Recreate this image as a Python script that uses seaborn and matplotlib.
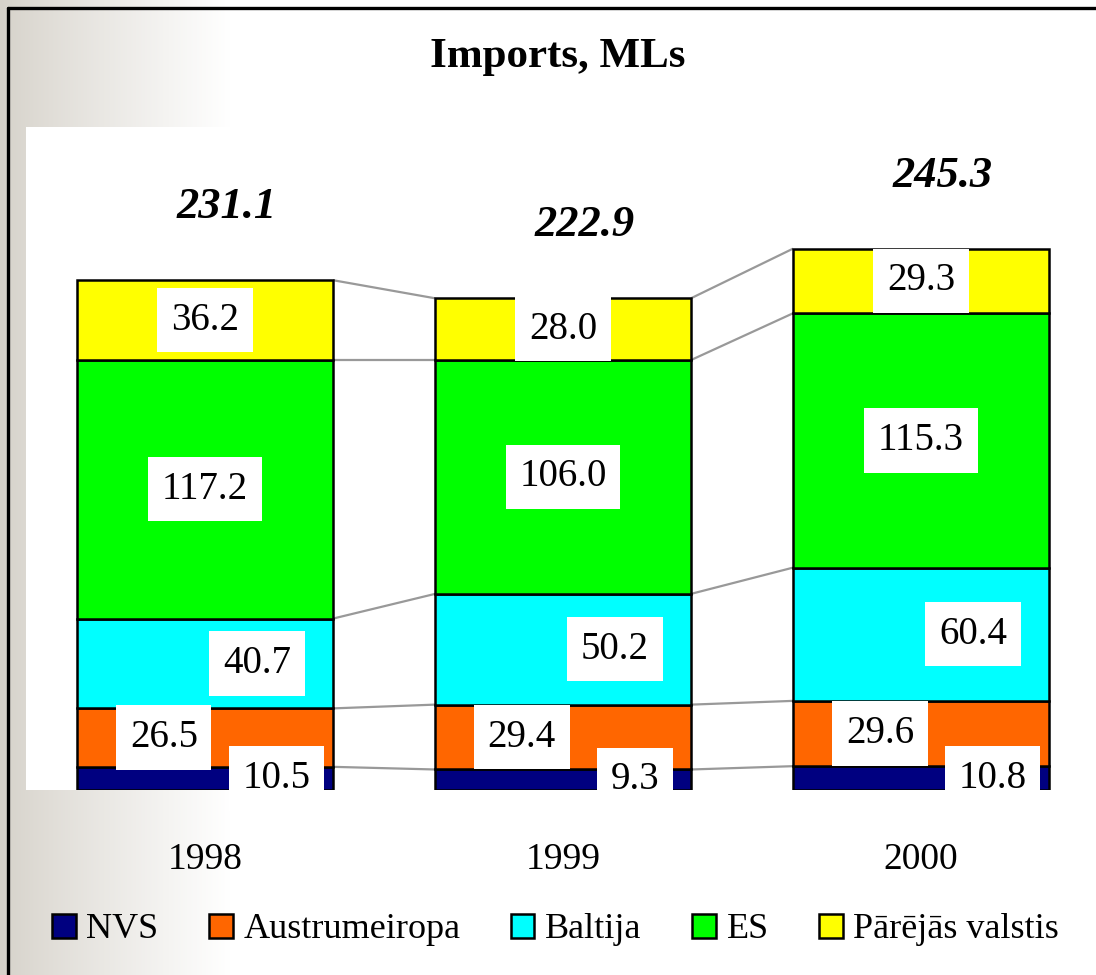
import matplotlib
matplotlib.use("Agg")
import matplotlib.pyplot as plt
import seaborn as sns
import numpy as np
from matplotlib.lines import Line2D
from matplotlib.patches import Patch

years = ["1998", "1999", "2000"]
series = ["NVS", "Austrumeiropa", "Baltija", "ES", "Pārējās valstis"]
nvs = [10.5, 9.3, 10.8]
austrumeiropa = [26.5, 29.4, 29.6]
baltija = [40.7, 50.2, 60.4]
es = [117.2, 106.0, 115.3]
parejas = [36.2, 28.0, 29.3]
totals = [231.1, 222.9, 245.3]

colors = ["#000080", "#FF6600", "#00FFFF", "#00FF00", "#FFFF00"]
label_dx = [0.20, -0.115, 0.145, 0.0, 0.0]   # horizontal shift of value boxes
bar_w = 0.715

sns.set_style("white")
plt.rcParams["font.family"] = ["Liberation Serif", "DejaVu Serif"]
plt.rcParams["text.color"] = "black"
plt.rcParams["xtick.color"] = "black"

W, H = 1096, 975
fig = plt.figure(figsize=(W / 100, H / 100), dpi=100)

# gradient background
bg = fig.add_axes([0, 0, 1, 1], zorder=-10)
grad = np.linspace(0, 1, W)
t = np.clip(grad * W / 230, 0, 1) ** 0.9
c0 = np.array([214, 210, 202]) / 255
img = c0[None, :] * (1 - t[:, None]) + t[:, None]
bg.imshow(np.tile(img[None, :, :], (2, 1, 1)), aspect="auto", extent=[0, 1, 0, 1])
bg.axis("off")

# plot area
ax = fig.add_axes([26 / W, (H - 790) / H, (W - 26) / W, (790 - 127) / H])
ax.set_facecolor("white")

stack = [nvs, austrumeiropa, baltija, es, parejas]
bottom = np.zeros(3)
bounds = []
for name, vals, col in zip(series, stack, colors):
    sns.barplot(x=years, y=vals, bottom=bottom, color=col, saturation=1,
                width=bar_w, edgecolor="black", linewidth=1.8, errorbar=None,
                ax=ax, label=name, zorder=2)
    bottom = bottom + np.array(vals)
    bounds.append(bottom.copy())

# connector lines between bars
for b in bounds:
    for i in range(2):
        ax.plot([i + bar_w / 2, i + 1 - bar_w / 2], [b[i], b[i + 1]],
                color="#999999", lw=1.6, zorder=1, solid_capstyle="butt")

# value boxes
bottom = np.zeros(3)
for k, vals in enumerate(stack):
    for i, v in enumerate(vals):
        ax.text(i + label_dx[k], bottom[i] + v / 2, f"{v:.1f}", ha="center", va="center",
                fontsize=28, zorder=5, clip_on=False,
                bbox=dict(boxstyle="square,pad=0.35", fc="white", ec="none"))
    bottom = bottom + np.array(vals)

for i, tot in enumerate(totals):
    ax.text(i + 0.06, tot + 33, f"{tot:.1f}", ha="center", va="center",
            fontsize=32, fontweight="bold", fontstyle="italic")

ax.set_xlim(-0.5, (W - 205) / 358)
ax.set_ylim(0, 663 / 2.206)
ax.set_yticks([])
ax.set_xticks(range(3))
ax.set_xticklabels(years, fontsize=27)
ax.tick_params(axis="x", length=0, pad=38)
ax.set_xlabel("")
sns.despine(ax=ax, left=True, bottom=True)
if ax.get_legend():
    ax.get_legend().remove()

fig.text(0.509, 1 - 57 / H, "Imports, MLs", ha="center", va="center",
         fontsize=31, fontweight="bold")

handles = [Patch(facecolor=c, edgecolor="black", linewidth=1.8) for c in colors]
fig.legend(handles, series, loc="center", bbox_to_anchor=(0.507, 1 - 930 / H),
           ncol=5, frameon=False, fontsize=26, handlelength=0.65, handleheight=0.65,
           handletextpad=0.3, columnspacing=1.4)

# frame lines (top and left)
fig.add_artist(Line2D([8 / W, 1], [1 - 8 / H, 1 - 8 / H], color="black", lw=2.4))
fig.add_artist(Line2D([8 / W, 8 / W], [0, 1 - 8 / H], color="black", lw=2.4))

fig.savefig("out.png", dpi=100)
